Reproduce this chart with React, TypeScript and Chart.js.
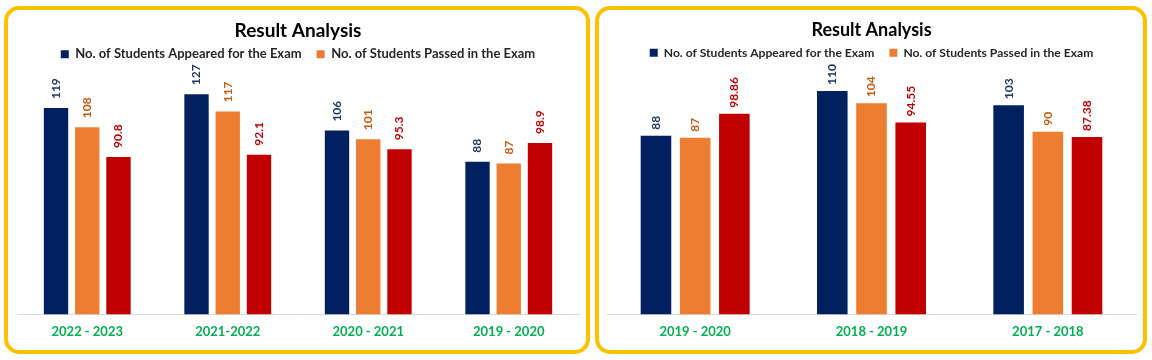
import React, { useEffect, useRef } from "react";
import { Chart, registerables } from "chart.js";
Chart.register(...registerables);

// ---- data ----
const leftCategories = ["2022 - 2023", "2021-2022", "2020 - 2021", "2019 - 2020"];
const leftAppeared = [119, 127, 106, 88];
const leftPassed = [108, 117, 101, 87];
const leftPercent = [90.8, 92.1, 95.3, 98.9];

const rightCategories = ["2019 - 2020", "2018 - 2019", "2017 - 2018"];
const rightAppeared = [88, 110, 103];
const rightPassed = [87, 104, 90];
const rightPercent = [98.86, 94.55, 87.38];

const seriesNames = [
  "No. of Students Appeared for the Exam",
  "No. of Students Passed in the Exam",
  "Pass Percentage",
];
const chartTitle = "Result Analysis";

const barColors = ["#002060", "#ED7D31", "#C00000"];
const labelColors = ["#1F3864", "#C55A11", "#C00000"];
const FONT = "Lato, 'Open Sans', sans-serif";

const barLabelPlugin = {
  id: "barLabels",
  afterDatasetsDraw(chart: any, _args: any, opts: any) {
    const ctx = chart.ctx;
    chart.data.datasets.forEach((ds: any, di: number) => {
      const meta = chart.getDatasetMeta(di);
      meta.data.forEach((el: any, i: number) => {
        const v = ds.data[i];
        ctx.save();
        ctx.translate(el.x, el.y - opts.offset);
        ctx.rotate(-Math.PI / 2);
        ctx.font = `bold ${opts.size}px ${FONT}`;
        ctx.fillStyle = labelColors[di];
        ctx.textAlign = "left";
        ctx.textBaseline = "middle";
        ctx.fillText(String(v), 0, 0);
        ctx.restore();
      });
    });
  },
};

type PanelProps = {
  box: { left: number; top: number; width: number; height: number };
  categories: string[];
  appeared: number[];
  passed: number[];
  percent: number[];
  yMax: number;
  titleSize: number;
  legendSize: number;
  labelSize: number;
  labelOffset: number;
  pad: { left: number; right: number; bottom: number };
};

function Panel(p: PanelProps) {
  const ref = useRef<HTMLCanvasElement>(null);
  useEffect(() => {
    const series = [p.appeared, p.passed, p.percent];
    const chart = new Chart(ref.current!, {
      type: "bar",
      data: {
        labels: p.categories,
        datasets: series.map((d, i) => ({
          label: seriesNames[i],
          data: d,
          backgroundColor: barColors[i],
          categoryPercentage: 0.667,
          barPercentage: 0.78,
        })),
      },
      options: {
        responsive: false,
        maintainAspectRatio: false,
        animation: false,
        layout: { padding: { left: p.pad.left, right: p.pad.right, bottom: p.pad.bottom, top: 0 } },
        plugins: {
          title: {
            display: true,
            text: chartTitle,
            color: "#000",
            font: { family: FONT, size: p.titleSize, weight: "bold" },
            padding: { top: 9, bottom: -9 },
          },
          legend: {
            display: true,
            labels: {
              filter: (item: any) => item.datasetIndex < 2,
              boxWidth: 8,
              boxHeight: 8,
              padding: 15,
              color: "#262626",
              font: { family: FONT, size: p.legendSize, weight: "bold" },
            },
          },
          tooltip: { enabled: false },
          barLabels: { offset: p.labelOffset, size: p.labelSize },
        } as any,
        scales: {
          x: {
            grid: { display: false, drawTicks: false },
            border: { display: true, color: "#D9D9D9", width: 1 },
            ticks: {
              color: "#00B050",
              padding: 10,
              font: { family: FONT, size: 13, weight: "bold" },
            },
          },
          y: {
            display: false,
            min: 0,
            max: p.yMax,
          },
        },
      },
      plugins: [barLabelPlugin],
    });
    return () => chart.destroy();
  }, []);
  return (
    <div
      style={{
        position: "absolute",
        left: p.box.left,
        top: p.box.top,
        width: p.box.width,
        height: p.box.height,
        border: "4px solid #FFC000",
        borderRadius: 15,
        boxSizing: "border-box",
        background: "#fff",
      }}
    >
      <canvas ref={ref} width={p.box.width - 8} height={p.box.height - 8} style={{ display: "block" }} />
    </div>
  );
}

export default function App() {
  return (
    <div style={{ position: "fixed", left: 0, top: 0, width: 1152, height: 360, background: "#fff" }}>
      <Panel
        box={{ left: 4, top: 6, width: 586, height: 348 }}
        categories={leftCategories}
        appeared={leftAppeared}
        passed={leftPassed}
        percent={leftPercent}
        yMax={140.5}
        titleSize={19}
        legendSize={13}
        labelSize={12}
        labelOffset={9}
        pad={{ left: 9, right: 7, bottom: 0 }}
      />
      <Panel
        box={{ left: 595, top: 6, width: 552, height: 348 }}
        categories={rightCategories}
        appeared={rightAppeared}
        passed={rightPassed}
        percent={rightPercent}
        yMax={121}
        titleSize={18}
        legendSize={12.1}
        labelSize={12}
        labelOffset={6}
        pad={{ left: 8, right: 7, bottom: 0 }}
      />
    </div>
  );
}
